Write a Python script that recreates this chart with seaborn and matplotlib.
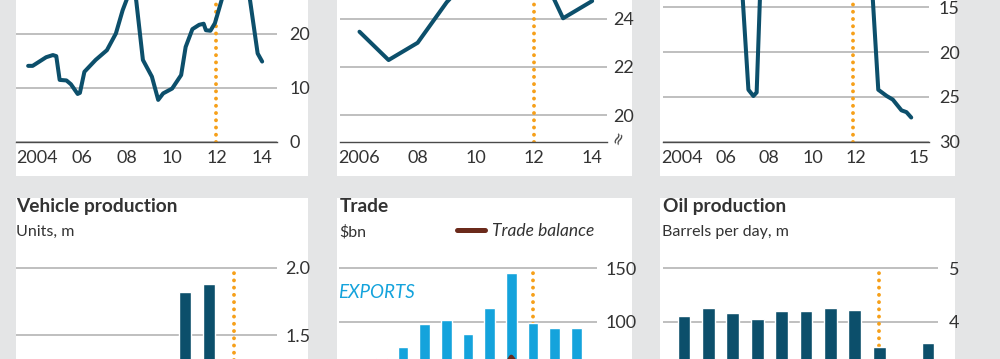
import matplotlib
matplotlib.use("Agg")
import matplotlib.pyplot as plt
import seaborn as sns
from matplotlib.patches import Rectangle
from matplotlib.lines import Line2D

# --- data (off-canvas parts are estimates) ---
infl_year = [2004.1, 2004.3, 2004.9, 2005.2, 2005.35, 2005.5, 2005.8, 2006.0, 2006.3, 2006.4,
             2006.6, 2007.1, 2007.6, 2008.0, 2008.3, 2008.5, 2008.7, 2008.9, 2009.2, 2009.6,
             2009.88, 2010.1, 2010.5, 2010.9, 2011.1, 2011.4, 2011.7, 2011.9, 2012.0, 2012.2,
             2012.4, 2012.7, 2013.0, 2013.3, 2013.6, 2013.8, 2013.96, 2014.3, 2014.5]
infl_value = [14.1, 14.1, 15.7, 16.1, 15.9, 11.5, 11.4, 10.7, 8.9, 9.1,
              13.0, 15.2, 17.0, 20.1, 24.4, 26.6, 28.5, 26.3, 15.2, 12.1,
              7.8, 9.0, 9.9, 12.4, 17.6, 20.9, 21.7, 21.9, 20.7, 20.6,
              22.0, 26.3, 31.0, 35.0, 33.0, 30.0, 26.3, 16.4, 14.9]

mid_year = [2006, 2007, 2008, 2009, 2010, 2011, 2012, 2013, 2014]
mid_value = [23.47, 22.29, 23.01, 24.7, 26.0, 27.0, 26.6, 24.03, 24.75]

inv_year = [2004.0, 2005.0, 2006.0, 2007.0, 2007.25, 2007.54, 2007.77, 2007.92, 2008.1, 2009.0,
            2010.0, 2011.0, 2012.0, 2013.2, 2013.53, 2013.92, 2014.2, 2014.6, 2014.83, 2015.05]
inv_value = [10.5, 9.0, 8.5, 9.5, 13.0, 24.2, 24.9, 24.5, 12.0, 7.0,
             6.0, 7.0, 9.0, 11.0, 24.2, 24.9, 25.3, 26.5, 26.7, 27.3]

veh_year = [2004, 2005, 2006, 2007, 2008, 2009, 2010, 2011, 2012, 2013]
veh_units = [0.80, 0.85, 0.90, 1.00, 1.05, 1.20, 1.82, 1.88, 1.00, 0.74]

trade_year = [2004, 2005, 2006, 2007, 2008, 2009, 2010, 2011, 2012, 2013, 2014]
exports = [45, 66, 76.5, 97.8, 101.5, 88.4, 113.1, 145.9, 98.4, 93.8, 94.4]
trade_balance = [5, 15, 20, 28, 30, 15, 35, 67, 40, 30, 25]

oil_year = [2004, 2005, 2006, 2007, 2008, 2009, 2010, 2011, 2012, 2013, 2014]
oil_barrels = [4.105, 4.25, 4.156, 4.05, 4.19, 4.19, 4.255, 4.22, 3.53, 3.2, 3.6]

EVENT = 2012

# --- style ---
W, H = 1000, 359
BG = "#e4e5e6"
TEAL = "#0c4f6b"
SKY = "#14a3dc"
ORANGE = "#f6a01a"
BROWN = "#6b2a1b"
GRID = "#b4b4b4"
TXT = "#333333"
TICK_SIZE = 13

sns.set_theme(style="white")
plt.rcParams["font.family"] = ["Lato", "DejaVu Sans"]
plt.rcParams["text.color"] = TXT
plt.rcParams["xtick.color"] = TXT
plt.rcParams["ytick.color"] = TXT

fig = plt.figure(figsize=(10, 3.59), dpi=100, facecolor=BG)


def px_axes(x0, x1, y_top, y_bot):
    ax = fig.add_axes([x0 / W, 1 - y_bot / H, (x1 - x0) / W, (y_bot - y_top) / H])
    ax.set_facecolor("none")
    for s in ax.spines.values():
        s.set_visible(False)
    return ax


def panel_bg(x0, x1, y0, y1):
    fig.add_artist(Rectangle((x0 / W, 1 - y1 / H), (x1 - x0) / W, (y1 - y0) / H,
                             transform=fig.transFigure, facecolor="white",
                             edgecolor="none", zorder=-5))


for cx0, cx1 in [(16, 308), (337, 632), (660, 955)]:
    panel_bg(cx0, cx1, -10, 176)
    panel_bg(cx0, cx1, 198, 370)


def yaxis_right(ax, ticks, pad):
    ax.yaxis.tick_right()
    ax.set_yticks(ticks, labels=[f"{t:g}" if not isinstance(t, float) else f"{t:.1f}" for t in ticks])
    ax.tick_params(axis="y", length=0, pad=pad, labelsize=TICK_SIZE)
    ax.grid(axis="y", color=GRID, lw=1.2)
    ax.set_axisbelow(True)


def baseline(ax):
    ax.spines["bottom"].set_visible(True)
    ax.spines["bottom"].set_color("#4a4a4a")
    ax.spines["bottom"].set_linewidth(1.0)
    ax.tick_params(axis="x", which="major", direction="in", length=6.5, width=1,
                   color="#4a4a4a", labelsize=TICK_SIZE, pad=6)
    ax.tick_params(axis="x", which="minor", length=0, labelsize=TICK_SIZE, pad=6)


def event_line(ax, x, ymax=1.0):
    ax.axvline(x, ymax=ymax, color=ORANGE, lw=2.8, ls=(0, (0.01, 1.85)),
               dash_capstyle="round", zorder=1.5)


def teal_line(ax, x, y):
    sns.lineplot(x=x, y=y, ax=ax, color=TEAL, lw=2.9, sort=False,
                 solid_joinstyle="round", solid_capstyle="round", zorder=3)
    ax.set_xlabel("")
    ax.set_ylabel("")


# --- top left: monthly series ---
ax1 = px_axes(16, 277, 142 - 40 * 5.4, 142)
teal_line(ax1, infl_year, infl_value)
ax1.set_ylim(0, 40)
ax1.set_xlim(2003.56, 2015.16)
yaxis_right(ax1, [0, 10, 20], 9)
ax1.set_xticks(list(range(2004, 2015)) + [2014.77], labels=[""] * 12)
ax1.set_xticks([y + 0.5 for y in range(2004, 2015, 2)],
               labels=["2004", "06", "08", "10", "12", "14"], minor=True)
baseline(ax1)
event_line(ax1, 2012.44)

# --- top middle: annual series with broken axis ---
lo2 = 20 - (141.7 - 115) / 24
ax2 = px_axes(340, 606.7, 141.7 - (28 - lo2) * 24, 141.7)
teal_line(ax2, mid_year, mid_value)
ax2.set_ylim(lo2, 28)
ax2.set_xlim(2005.33, 2014.5)
yaxis_right(ax2, [20, 22, 24], 5)
ax2.set_xticks(range(2006, 2015),
               labels=["2006" if y == 2006 else (f"{y % 100:02d}" if y % 2 == 0 else "")
                       for y in range(2006, 2015)])
baseline(ax2)
event_line(ax2, EVENT)
ax2.text(1.0, 0.02, "≈", transform=ax2.transAxes, rotation=65, fontsize=12,
         color="#444444", ha="left", va="center", clip_on=False,
         fontfamily="DejaVu Sans")

# --- top right: inverted scale ---
ax3 = px_axes(663, 929, 141.7 - 30 * 8.96, 141.7)
teal_line(ax3, inv_year, inv_value)
ax3.set_ylim(30, 0)
ax3.set_xlim(2003.6, 2015.87)
yaxis_right(ax3, [30, 25, 20, 15], 7)
ax3.set_xticks(list(range(2004, 2016)) + [2015.25], labels=[""] * 13)
ax3.set_xticks([2004.5, 2006.5, 2008.5, 2010.5, 2012.5, 2015.4],
               labels=["2004", "06", "08", "10", "12", "15"], minor=True)
baseline(ax3)
event_line(ax3, 2012.38)

# --- bottom left: vehicle production ---
ax4 = px_axes(16, 277, 268 - 0.03 * 134, 268 + 2.0 * 134)
sns.barplot(x=veh_year, y=veh_units, ax=ax4, native_scale=True, width=0.5,
            color=TEAL, saturation=1, errorbar=None, zorder=3)
ax4.set_ylim(0, 2.03)
ax4.set_xlim(2003.05, 2013.79)
yaxis_right(ax4, [1.5, 2.0], 6)
ax4.set_xticks([])
event_line(ax4, EVENT, ymax=2.0 / 2.03)
ax4.set_xlabel("")
ax4.set_ylabel("")

# --- bottom middle: trade ---
ax5 = px_axes(339, 596.7, 268.3 - 3 * 1.067, 268.3 + 150 * 1.067)
event_line(ax5, EVENT, ymax=150 / 153)
sns.barplot(x=trade_year, y=exports, ax=ax5, native_scale=True, width=0.5,
            color=SKY, saturation=1, errorbar=None, zorder=3)
sns.lineplot(x=trade_year, y=trade_balance, ax=ax5, color=BROWN, lw=3.2,
             solid_joinstyle="round", solid_capstyle="round", zorder=4)
ax5.set_ylim(0, 153)
ax5.set_xlim(2003.05, 2014.94)
yaxis_right(ax5, [100, 150], 6.5)
ax5.set_xticks([])
ax5.set_xlabel("")
ax5.set_ylabel("")

# --- bottom right: oil production ---
ax6 = px_axes(663, 938, 268.3 - 0.06 * 53.3, 268.3 + 5 * 53.3)
event_line(ax6, EVENT, ymax=5 / 5.06)
sns.barplot(x=oil_year, y=oil_barrels, ax=ax6, native_scale=True, width=0.52,
            color=TEAL, saturation=1, errorbar=None, zorder=3)
ax6.set_ylim(0, 5.06)
ax6.set_xlim(2003.14, 2014.41)
yaxis_right(ax6, [4, 5], 8)
ax6.set_xticks([])
ax6.set_xlabel("")
ax6.set_ylabel("")


# --- titles, subtitles, legend ---
def fy(y):
    return 1 - y / H


fig.text(16 / W, fy(198), "Vehicle production", ha="left", va="top", size=13.8, weight="bold")
fig.text(16 / W, fy(225), "Units, m", ha="left", va="top", size=11.5)
fig.text(340 / W, fy(198), "Trade", ha="left", va="top", size=13.8, weight="bold")
fig.text(339 / W, fy(225), "\\$bn", ha="left", va="top", size=11.5)
fig.text(663 / W, fy(198), "Oil production", ha="left", va="top", size=13.8, weight="bold")
fig.text(662 / W, fy(225), "Barrels per day, m", ha="left", va="top", size=11.5)

fig.add_artist(Line2D([456.7 / W, 485 / W], [fy(230), fy(230)], transform=fig.transFigure,
                      color=BROWN, lw=3.6))
fig.text(492 / W, fy(230.5), "Trade balance", ha="left", va="center", size=12.5, style="italic")
fig.text(338 / W, fy(284.5), "EXPORTS", ha="left", va="top", size=13.5, style="italic", color=SKY)

fig.savefig("out.png", dpi=100, facecolor=BG)
